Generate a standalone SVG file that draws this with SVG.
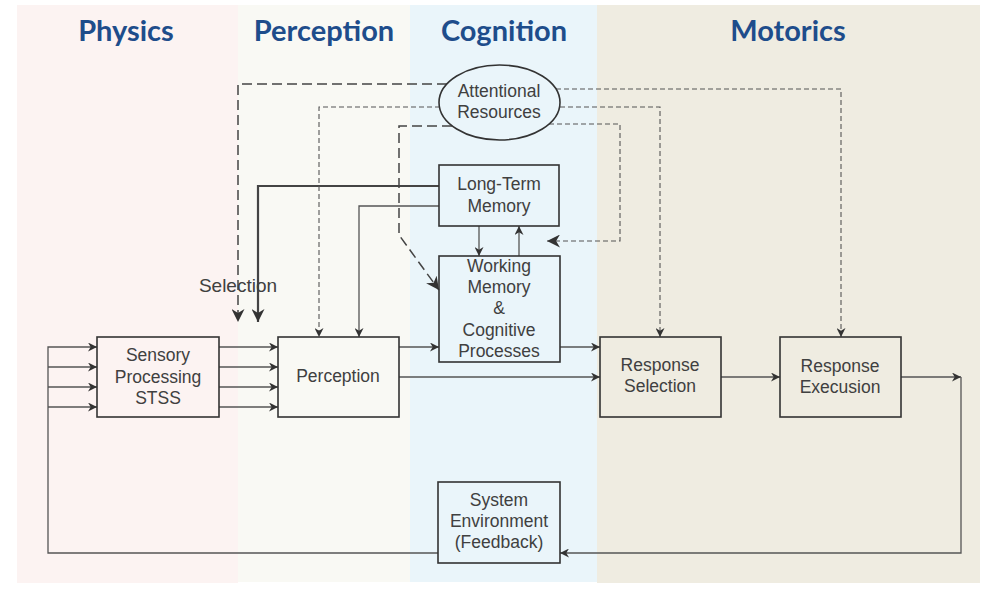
<svg xmlns="http://www.w3.org/2000/svg" width="1006" height="601" viewBox="0 0 1006 601">
<style>
.title{font-family:Lato,"Open Sans",sans-serif;font-weight:bold;font-size:29px;fill:#1e4d8b;text-anchor:middle}
.lbl{font-family:"Liberation Sans",Arial,sans-serif;font-size:17.5px;fill:#404040;text-anchor:middle}
.box{fill:none;stroke:#333;stroke-width:1.6}
.c{fill:none;stroke:#555;stroke-width:1.3}
.ct{fill:none;stroke:#444;stroke-width:2.2}
.dl{fill:none;stroke:#444;stroke-width:1.5;stroke-dasharray:10 5}
.ds{fill:none;stroke:#555;stroke-width:1.1;stroke-dasharray:5 3}
</style>
<defs>
<marker id="a" viewBox="0 0 10 10" refX="10" refY="5" markerWidth="10" markerHeight="9" orient="auto" markerUnits="userSpaceOnUse"><path d="M0,0 L10,5 L0,10 L3,5 z" fill="#333"/></marker>
<marker id="b" viewBox="0 0 10 10" refX="10" refY="5" markerWidth="13" markerHeight="13" orient="auto" markerUnits="userSpaceOnUse"><path d="M0,0 L10,5 L0,10 L3,5 z" fill="#333"/></marker>
</defs>
<rect width="1006" height="601" fill="#fff"/>
<g id="panels">
<rect x="17" y="5" width="221" height="578" fill="#fcf3f2"/>
<rect x="238" y="5" width="172" height="577" fill="#f9f9f4"/>
<rect x="410" y="5" width="187" height="577" fill="#eaf5fa"/>
<rect x="597" y="5" width="383" height="578" fill="#efece1"/>
<text class="title" x="126" y="41">Physics</text>
<text class="title" x="324" y="41">Perception</text>
<text class="title" x="504" y="41">Cognition</text>
<text class="title" x="788" y="41">Motorics</text>
</g>
<g id="connectors">
<path class="c" d="M438,553 H48 V347 H97" marker-end="url(#a)"/>
<path class="c" d="M48,367 H97" marker-end="url(#a)"/>
<path class="c" d="M48,387 H97" marker-end="url(#a)"/>
<path class="c" d="M48,407 H97" marker-end="url(#a)"/>
<path class="c" d="M219,347 H278" marker-end="url(#a)"/>
<path class="c" d="M219,367 H278" marker-end="url(#a)"/>
<path class="c" d="M219,387 H278" marker-end="url(#a)"/>
<path class="c" d="M219,407 H278" marker-end="url(#a)"/>
<path class="c" d="M399,347 H439" marker-end="url(#a)"/>
<path class="c" d="M399,377 H600" marker-end="url(#a)"/>
<path class="c" d="M560,347 H600" marker-end="url(#a)"/>
<path class="c" d="M721,377 H780" marker-end="url(#a)"/>
<path class="c" d="M901,377 H961" marker-end="url(#a)"/>
<path class="c" d="M961,377 V553 H560" marker-end="url(#a)"/>
<path class="c" d="M479,226 V256" marker-end="url(#a)"/>
<path class="c" d="M519,256 V226" marker-end="url(#a)"/>
<path class="ct" d="M439,186 H258 V322" marker-end="url(#b)"/>
<path class="c" d="M439,206 H359 V337" marker-end="url(#a)"/>
<path class="dl" d="M447,84 H238 V322" marker-end="url(#b)"/>
<path class="ds" d="M440,107 H319 V337" marker-end="url(#a)"/>
<path class="dl" d="M452,126 H399 V235 L439,290" marker-end="url(#b)"/>
<path class="ds" d="M556,89 H841 V337" marker-end="url(#a)"/>
<path class="ds" d="M560,107 H660 V337" marker-end="url(#a)"/>
<path class="ds" d="M549,124 H620 V241 H547" marker-end="url(#b)"/>
<text class="lbl" x="238" y="292" style="font-size:19px">Selection</text>
</g>
<g id="attention">
<ellipse cx="499.5" cy="102.5" rx="60.5" ry="37.5" fill="#eaf5fa" stroke="#333" stroke-width="1.6"/>
<text class="lbl" x="499" y="97">Attentional</text>
<text class="lbl" x="499" y="118">Resources</text>
</g>
<g id="ltm">
<rect class="box" x="439" y="165" width="120" height="61"/>
<text class="lbl" x="499" y="190">Long-Term</text>
<text class="lbl" x="499" y="212">Memory</text>
</g>
<g id="wm">
<rect class="box" x="439" y="256" width="121" height="106"/>
<text class="lbl" x="499" y="272">Working</text>
<text class="lbl" x="499" y="293">Memory</text>
<text class="lbl" x="499" y="314">&amp;</text>
<text class="lbl" x="499" y="336">Cognitive</text>
<text class="lbl" x="499" y="357">Processes</text>
</g>
<g id="sensory">
<rect class="box" x="97" y="337" width="122" height="80"/>
<text class="lbl" x="158" y="361">Sensory</text>
<text class="lbl" x="158" y="383">Processing</text>
<text class="lbl" x="158" y="404">STSS</text>
</g>
<g id="perception">
<rect class="box" x="278" y="337" width="121" height="80"/>
<text class="lbl" x="338" y="382">Perception</text>
</g>
<g id="selection">
<rect class="box" x="600" y="337" width="121" height="80"/>
<text class="lbl" x="660" y="371">Response</text>
<text class="lbl" x="660" y="392">Selection</text>
</g>
<g id="execution">
<rect class="box" x="780" y="337" width="121" height="80"/>
<text class="lbl" x="840" y="372">Response</text>
<text class="lbl" x="840" y="393">Execusion</text>
</g>
<g id="environment">
<rect class="box" x="438" y="482" width="122" height="81"/>
<text class="lbl" x="499" y="506">System</text>
<text class="lbl" x="499" y="527">Environment</text>
<text class="lbl" x="499" y="548">(Feedback)</text>
</g>
</svg>
